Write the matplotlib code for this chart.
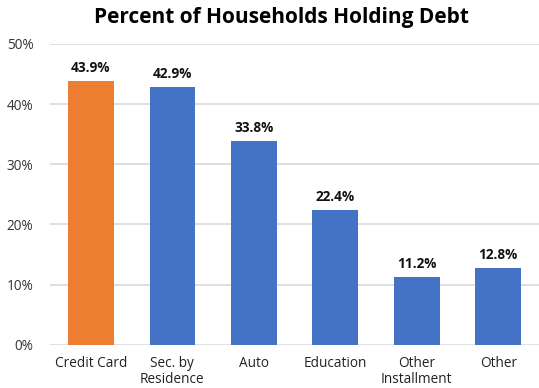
import matplotlib
matplotlib.use("Agg")
import matplotlib.pyplot as plt

categories = ["Credit Card", "Sec. by\nResidence", "Auto", "Education", "Other\nInstallment", "Other"]
values = [43.9, 42.9, 33.8, 22.4, 11.2, 12.8]
colors = ["#ED7D31", "#4472C4", "#4472C4", "#4472C4", "#4472C4", "#4472C4"]
yticks = [0, 10, 20, 30, 40, 50]

plt.rcParams["font.family"] = ["Open Sans", "DejaVu Sans"]

fig = plt.figure(figsize=(5.39, 3.88), dpi=100)
ax = fig.add_axes([0.093, 0.111, 0.907, 0.776])

x = range(len(categories))
ax.bar(x, values, width=0.56, color=colors, zorder=3)
for xi, v in zip(x, values):
    ax.text(xi, v + 1.0, f"{v:.1f}%", ha="center", va="bottom",
            fontsize=9.8, fontweight="bold", color="#111111")

ax.set_xlim(-0.5, len(categories) - 0.5)
ax.set_ylim(0, 50)
ax.set_yticks(yticks)
ax.set_yticklabels([f"{t}%" for t in yticks], fontsize=9.8, color="#333333")
ax.set_xticks(list(x))
ax.set_xticklabels(categories, fontsize=9.8, color="#222222", linespacing=1.05)
ax.tick_params(axis="x", length=0, pad=8)
ax.tick_params(axis="y", length=0, pad=12)
ax.grid(axis="y", color="#d9d9d9", linewidth=1.2, zorder=0)
for s in ax.spines.values():
    s.set_visible(False)

fig.text(0.522, 0.955, "Percent of Households Holding Debt", ha="center", va="center",
         fontsize=15, fontweight="bold", color="#000000")

fig.savefig("out.png", dpi=100)
